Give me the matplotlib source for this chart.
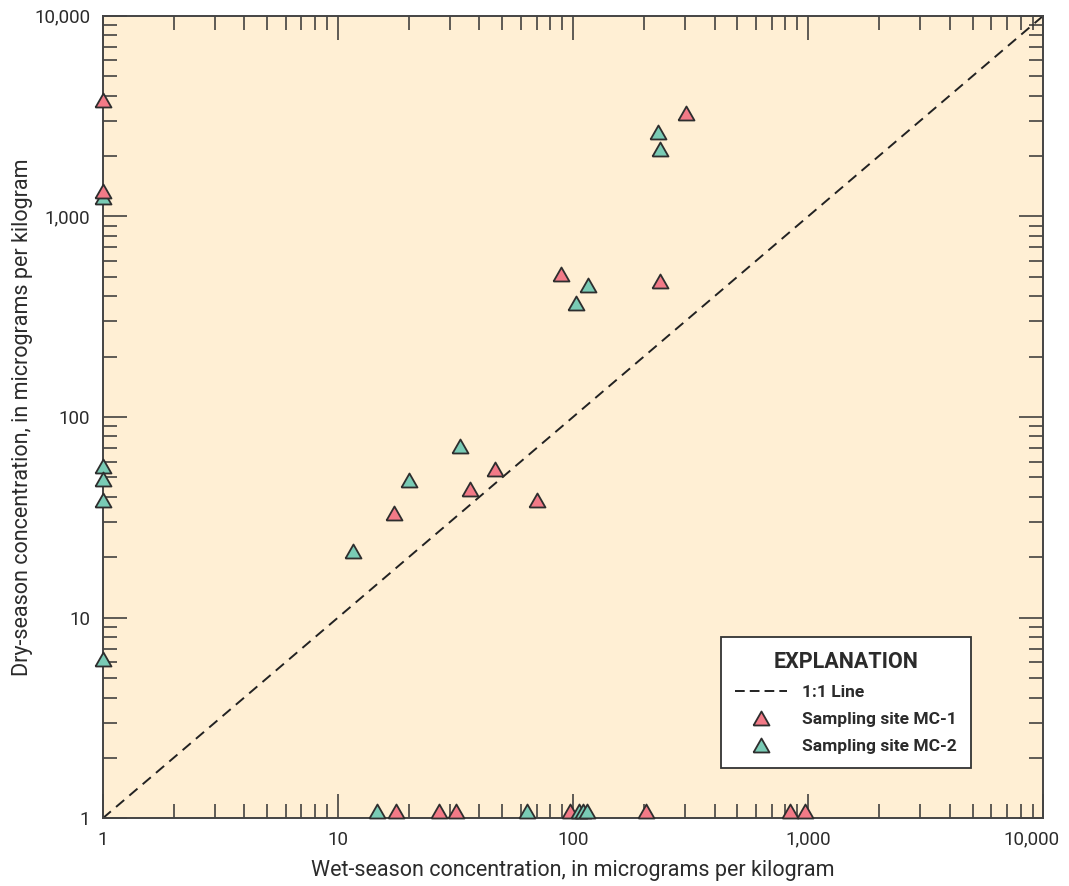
import matplotlib
matplotlib.use("Agg")
import matplotlib.pyplot as plt
from matplotlib.ticker import LogLocator, FuncFormatter, NullFormatter
from matplotlib.lines import Line2D
from matplotlib.transforms import ScaledTranslation
import numpy as np

plt.rcParams['font.family'] = ['Roboto', 'DejaVu Sans']

# ---- data ----
mc1_wet = [1, 1, 17.4, 36.6, 46.5, 70.5, 88.9, 234, 301,
           17.6, 26.8, 31.7, 97.4, 205, 835, 967]
mc1_dry = [3800, 1340, 33.1, 43.8, 55.2, 38.6, 518, 475, 3270,
           1, 1, 1, 1, 1, 1, 1]
mc2_wet = [1, 1, 1, 1, 1, 11.6, 20.0, 33.1, 103, 116, 230, 234.5,
           14.7, 63.7, 105.7, 110.4, 114.8]
mc2_dry = [1250, 57, 49, 38.7, 6.2, 21.5, 48.4, 71.3, 371, 456, 2620, 2160,
           1, 1, 1, 1, 1]
one_to_one = [1, 10000]
tick_values = [1, 10, 100, 1000, 10000]

red = '#F27A87'
green = '#79CBB5'
edge = '#2e2e2e'
bg = '#FFEFD4'
txt = '#2b2b2b'

fig = plt.figure(figsize=(10.69, 8.86), dpi=100)
ax = fig.add_axes([0.0961, 0.0764, 0.976 - 0.0961, 0.9823 - 0.0764])
ax.set_facecolor(bg)
ax.set_xscale('log')
ax.set_yscale('log')
ax.set_xlim(1, 10000)
ax.set_ylim(1, 10000)

ax.plot(one_to_one, one_to_one, linestyle=(0, (5.5, 3.5)), color='#222222',
        linewidth=1.4, zorder=2)

ms = 11.5
centered = [(-1, -0.875), (1, -0.875), (0, 0.875), (-1, -0.875)]
based = [(-1, 0), (1, 0), (0, 1.75), (-1, 0)]

def split(wet, dry):
    w = np.array(wet, float); d = np.array(dry, float)
    m = d == 1
    return (w[~m], d[~m]), (w[m], d[m])

(m1a, m1b) = split(mc1_wet, mc1_dry)
(m2a, m2b) = split(mc2_wet, mc2_dry)

kw = dict(linestyle='none', markeredgecolor=edge, markeredgewidth=1.3,
          clip_on=False)
ax.plot(*m2a, marker=centered, markersize=ms, markerfacecolor=green, zorder=4, **kw)
ax.plot(*m1a, marker=centered, markersize=ms, markerfacecolor=red, zorder=5, **kw)
ax.plot(*m1b, marker=based, markersize=ms * 1.75, markerfacecolor=red, zorder=5, **kw)
ax.plot(*m2b, marker=based, markersize=ms * 1.75, markerfacecolor=green, zorder=6, **kw)

fmt = FuncFormatter(lambda v, p: f'{int(round(v)):,}')
for axis in (ax.xaxis, ax.yaxis):
    axis.set_major_locator(LogLocator(base=10, numticks=10))
    axis.set_minor_locator(LogLocator(base=10, subs=np.arange(2, 10), numticks=10))
    axis.set_major_formatter(fmt)
    axis.set_minor_formatter(NullFormatter())
ax.set_xticks(tick_values)
ax.set_yticks(tick_values)

ax.tick_params(which='both', direction='in', top=True, right=True,
               colors='#333333', labelcolor=txt, labelsize=13.5)
ax.tick_params(which='major', length=17, width=1.1, pad=9)
ax.tick_params(which='minor', length=10, width=1.1)
for s in ax.spines.values():
    s.set_color('#444444')
    s.set_linewidth(1.4)

# shift the last x tick label left so it stays inside the figure
last = ax.xaxis.get_major_ticks()[-1].label1
last.set_transform(last.get_transform() + ScaledTranslation(-0.12, 0, fig.dpi_scale_trans))

ax.set_xlabel('Wet-season concentration, in micrograms per kilogram',
              fontsize=15.5, color=txt)
ax.xaxis.set_label_coords(0.5, -0.052)
ax.set_ylabel('Dry-season concentration, in micrograms per kilogram',
              fontsize=15.5, color=txt)
ax.yaxis.set_label_coords(-0.0745, 0.5)

handles = [
    Line2D([], [], linestyle=(0, (5.0, 2.6)), color='#222222', linewidth=1.4),
    Line2D([], [], linestyle='none', marker=centered, markersize=ms,
           markerfacecolor=red, markeredgecolor=edge, markeredgewidth=1.3),
    Line2D([], [], linestyle='none', marker=centered, markersize=ms,
           markerfacecolor=green, markeredgecolor=edge, markeredgewidth=1.3),
]
labels = ['1:1 Line', 'Sampling site MC-1', 'Sampling site MC-2']
leg = ax.legend(handles, labels, loc='lower right',
                bbox_to_anchor=(0.923, 0.0627), frameon=True, fancybox=False,
                edgecolor='#333333', facecolor='white', framealpha=1,
                prop={'weight': 'bold', 'size': 12.5}, title='EXPLANATION',
                title_fontproperties={'weight': 'bold', 'size': 15.5},
                handlelength=3.0, borderpad=0.8, labelspacing=0.68,
                handletextpad=0.9, borderaxespad=0)
leg.get_frame().set_linewidth(1.3)
for t in leg.get_texts():
    t.set_color(txt)
leg.get_title().set_color(txt)

fig.savefig('out.png', dpi=100, facecolor='white')
